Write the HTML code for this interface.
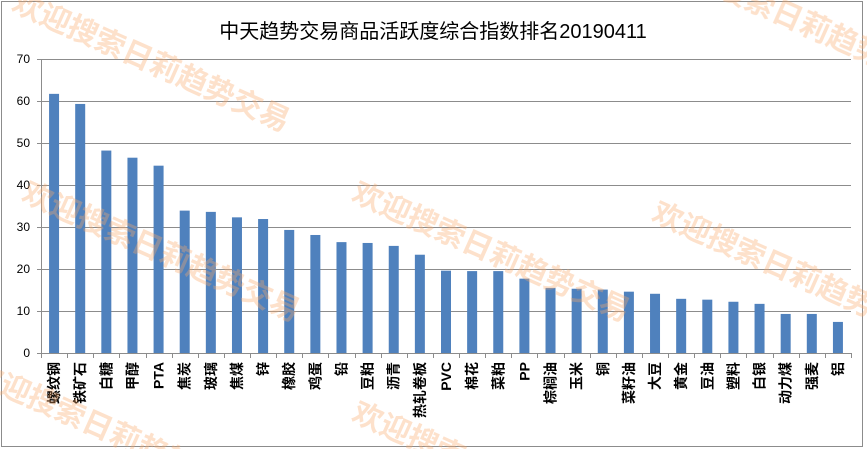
<!DOCTYPE html>
<html><head><meta charset="utf-8"><style>
html,body{margin:0;background:#fff;width:867px;height:449px;overflow:hidden;}
svg{display:block;}
svg text{font-family:"Liberation Sans","Noto Sans CJK SC",sans-serif;}
</style></head><body>
<svg width="867" height="449" xmlns="http://www.w3.org/2000/svg" overflow="hidden">
<defs><clipPath id="cp"><rect x="0" y="0" width="867" height="449"/></clipPath></defs>
<rect x="1.5" y="1.5" width="861" height="445" fill="#fff" stroke="#8c8c8c"/>
<text x="433" y="38" font-size="20" text-anchor="middle" fill="#000">中天趋势交易商品活跃度综合指数排名20190411</text>
<g id="grid" stroke="#8c8c8c" stroke-width="1"></g>
<g id="bars" fill="#4f81bd"></g>
<g id="ylab" font-size="12" fill="#000" text-anchor="end"></g>
<g id="xlab" font-size="14" font-weight="bold" fill="#000"></g>
<g clip-path="url(#cp)"><g id="wm" font-size="30" font-weight="bold" fill="#f9a86a" opacity="0.35"></g></g>
</svg>
<script>
const ns="http://www.w3.org/2000/svg";
function el(p,t,a,txt){const e=document.createElementNS(ns,t);for(const k in a)e.setAttribute(k,a[k]);if(txt!=null)e.textContent=txt;document.getElementById(p).appendChild(e);}
const y0=353,k=4.2,x0=41,x1=851;
for(let v=0;v<=70;v+=10){const y=y0-v*k;el('grid','line',{x1:x0-4,x2:x1,y1:y+.5,y2:y+.5});el('ylab','text',{x:30,y:y+4},v);}
el('grid','line',{x1:x0+.5,x2:x0+.5,y1:59,y2:y0});
const names=["螺纹钢","铁矿石","白糖","甲醇","PTA","焦炭","玻璃","焦煤","锌","橡胶","鸡蛋","铅","豆粕","沥青","热轧卷板","PVC","棉花","菜粕","PP","棕榈油","玉米","铜","菜籽油","大豆","黄金","豆油","塑料","白银","动力煤","强麦","铝"];
const vals=[61.7,59.3,48.2,46.5,44.6,33.9,33.6,32.3,31.9,29.3,28.1,26.4,26.2,25.5,23.4,19.6,19.5,19.5,17.7,15.5,15.3,15.1,14.6,14.1,12.9,12.7,12.2,11.7,9.3,9.3,7.4];
const w=(x1-x0)/31;
for(let i=0;i<=31;i++){const x=Math.round(x0+i*w)+.5;el('grid','line',{x1:x,x2:x,y1:y0,y2:y0+5});}
names.forEach((n,i)=>{const c=x0+(i+.5)*w;const h=vals[i]*k;el('bars','rect',{x:c-5,y:y0-h,width:10,height:h});
el('xlab','text',{x:0,y:0,transform:`translate(${c+5},362) rotate(-90)`,'text-anchor':'end'},n);});
[[10,10],[20,200],[350,200],[-30,380],[650,220],[660,-30],[350,420]].forEach(p=>el('wm','text',{x:0,y:0,transform:`translate(${p[0]},${p[1]}) rotate(24)`},"欢迎搜索日莉趋势交易"));
</script>
</body></html>
